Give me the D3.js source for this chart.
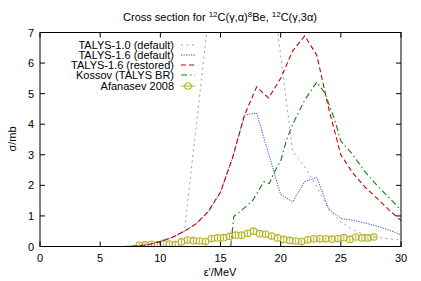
<!DOCTYPE html>
<html><head><meta charset="utf-8">
<script src="https://cdn.jsdelivr.net/npm/d3@7"></script>
<style>
body{margin:0;background:#fff;}
svg text{font-family:"Liberation Sans",Arial,sans-serif;fill:#000;}
</style></head>
<body><svg id="c" width="421" height="281"></svg>
<script>
// ---- data ----
const xTicks = [0,5,10,15,20,25,30];
const yTicks = [0,1,2,3,4,5,6,7];

const talys10E = [7,8,9,10,11,12,15,17,19,21,22,23,24,25,26,27,28,29,30];
const talys10S = [0,0.02,0.06,0.16,0.3,0.5,11,14,9.4,3.1,2.6,1.95,1.2,0.8,0.55,0.38,0.3,0.25,0.21];

const talys16E = [7,8,9,10,11,12,13,14,15,16,17,18,19,20,21,22,23,24,25,26,27,28,29,30];
const talys16S = [0,0.02,0.06,0.16,0.3,0.5,0.75,1.15,1.78,2.9,4.3,4.37,3.03,1.7,1.46,2.12,2.26,1.22,0.92,0.86,0.77,0.67,0.54,0.38];

const restE = [7,8,9,10,11,12,13,14,15,16,17,18,19,20,21,22,23,24,25,26,27,28,29,30];
const restS = [0,0.02,0.06,0.16,0.3,0.5,0.75,1.15,1.78,2.9,4.3,5.22,4.86,5.5,6.4,6.89,6.26,4.5,3.0,2.4,1.95,1.58,1.2,0.85];

const kossovE = [15.85,16.1,17,17.7,18.6,19.05,19.5,20,20.5,21,22,23,23.7,24.5,25,26,27,28,29,30];
const kossovS = [0,0.98,1.27,1.52,2.12,2.06,2.45,2.8,3.5,4.0,4.79,5.38,5.0,4.13,3.45,3.0,2.45,2.0,1.6,1.19];

const afE = [8.25,8.75,9.25,9.75,10.25,10.75,11.25,11.75,12.25,12.75,13.25,13.75,14.25,14.75,15.25,15.75,16.25,16.75,17.25,17.75,
             18.25,18.75,19.25,19.75,20.25,20.75,21.25,21.75,22.25,22.75,23.25,23.75,24.25,24.75,25.25,25.75,26.25,26.75,27.25,27.75];
const afS = [0.04,0.05,0.07,0.05,0.1,0.08,0.06,0.15,0.21,0.19,0.18,0.16,0.26,0.28,0.29,0.33,0.37,0.37,0.43,0.5,
             0.42,0.4,0.34,0.28,0.23,0.2,0.18,0.16,0.22,0.25,0.25,0.25,0.24,0.26,0.29,0.23,0.31,0.28,0.28,0.31];
const afErr = 0.08;

const legendLabels = ["TALYS-1.0 (default)","TALYS-1.6 (default)","TALYS-1.6 (restored)","Kossov (TALYS BR)","Afanasev 2008"];

// ---- layout ----
const svg = d3.select("#c");
const L = 40, R = 401, T = 32.5, B = 246.5;
const x = d3.scaleLinear().domain([0,30]).range([L,R]);
const y = d3.scaleLinear().domain([0,7]).range([B,T]);

svg.append("defs").append("clipPath").attr("id","clip")
  .append("rect").attr("x",L).attr("y",T).attr("width",R-L).attr("height",B-T);

const series = [
  {E:talys10E,S:talys10S,color:"#a0a0a0",dash:"2,3.5",w:1},
  {E:talys16E,S:talys16S,color:"#3c3cff",dash:"1.2,1.3",w:1},
  {E:restE,S:restS,color:"#cc0000",dash:"5,3",w:1.1},
  {E:kossovE,S:kossovS,color:"#108010",dash:"6,3,1.5,3",w:1.1}
];
const line = d3.line().x(d=>x(d[0])).y(d=>y(d[1]));
const g = svg.append("g").attr("clip-path","url(#clip)");

// Afanasev data (drawn first, under lines)
const afColor = "#b4b41e";
const af = g.append("g");
afE.forEach((e,i)=>{
  af.append("line").attr("x1",x(e)).attr("x2",x(e))
    .attr("y1",y(afS[i]-afErr)).attr("y2",y(afS[i]+afErr))
    .attr("stroke",afColor).attr("stroke-width",1);
  af.append("circle").attr("cx",x(e)).attr("cy",y(afS[i])).attr("r",3.3)
    .attr("fill","none").attr("stroke",afColor).attr("stroke-width",1.1);
});

series.forEach(s=>{
  g.append("path").datum(s.E.map((e,i)=>[e,s.S[i]]))
   .attr("d",line).attr("fill","none").attr("stroke",s.color)
   .attr("stroke-width",s.w).attr("stroke-dasharray",s.dash);
});

// frame & axes
const ax = svg.append("g");
ax.append("rect").attr("x",L).attr("y",T).attr("width",R-L).attr("height",B-T)
  .attr("fill","none").attr("stroke","#000").attr("stroke-width",1);
const tl = 5;
xTicks.forEach(t=>{
  ax.append("line").attr("x1",x(t)).attr("x2",x(t)).attr("y1",B).attr("y2",B-tl).attr("stroke","#000");
  ax.append("line").attr("x1",x(t)).attr("x2",x(t)).attr("y1",T).attr("y2",T+tl).attr("stroke","#000");
  ax.append("text").attr("x",x(t)).attr("y",B+15).attr("text-anchor","middle")
    .attr("font-size",11).text(t);
});
yTicks.forEach(t=>{
  ax.append("line").attr("x1",L).attr("x2",L+tl).attr("y1",y(t)).attr("y2",y(t)).attr("stroke","#000");
  ax.append("line").attr("x1",R).attr("x2",R-tl).attr("y1",y(t)).attr("y2",y(t)).attr("stroke","#000");
  ax.append("text").attr("x",L-6).attr("y",y(t)+4).attr("text-anchor","end")
    .attr("font-size",11).text(t);
});

// labels
svg.append("text").attr("transform","translate(16,139) rotate(-90)")
  .attr("text-anchor","middle").attr("font-size",11).text("σ/mb");
svg.append("text").attr("x",220).attr("y",276).attr("text-anchor","middle")
  .attr("font-size",11).text("ε'/MeV");

// title
const tt = svg.append("text").attr("x",220).attr("y",21).attr("text-anchor","middle").attr("font-size",11);
tt.append("tspan").text("Cross section for ");
tt.append("tspan").attr("font-size",8).attr("dy",-4).text("12");
tt.append("tspan").attr("dy",4).text("C(γ,α)");
tt.append("tspan").attr("font-size",8).attr("dy",-4).text("8");
tt.append("tspan").attr("dy",4).text("Be, ");
tt.append("tspan").attr("font-size",8).attr("dy",-4).text("12");
tt.append("tspan").attr("dy",4).text("C(γ,3α)");

// legend
const lg = svg.append("g");
const rowY = [45,55,65,75,86];
legendLabels.forEach((lab,i)=>{
  const yy = rowY[i];
  lg.append("text").attr("x",174).attr("y",yy+4).attr("text-anchor","end").attr("font-size",11).text(lab);
  if(i<4){
    const s = series[i];
    lg.append("line").attr("x1",181).attr("x2",195).attr("y1",yy).attr("y2",yy)
      .attr("stroke",s.color).attr("stroke-width",s.w).attr("stroke-dasharray",s.dash);
  } else {
    lg.append("line").attr("x1",181).attr("x2",195).attr("y1",yy).attr("y2",yy)
      .attr("stroke",afColor).attr("stroke-width",1);
    lg.append("circle").attr("cx",188).attr("cy",yy).attr("r",3.3)
      .attr("fill","none").attr("stroke",afColor).attr("stroke-width",1.1);
  }
});
</script></body></html>
